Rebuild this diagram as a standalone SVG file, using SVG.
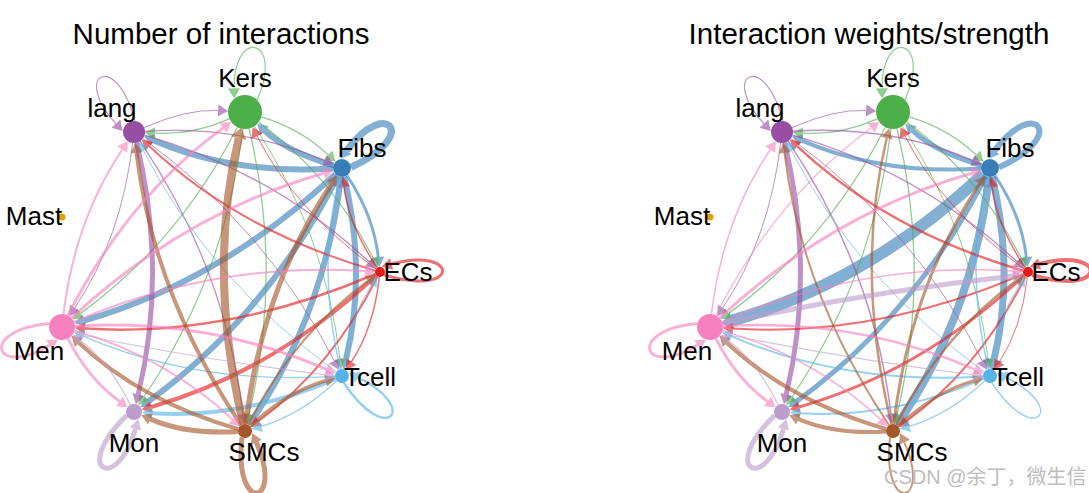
<svg xmlns="http://www.w3.org/2000/svg" width="1089" height="493" viewBox="0 0 1089 493">
<style>
.t{font-family:"Liberation Sans",Arial,sans-serif;fill:#000}
.lab{font-size:26px;text-anchor:middle}
.ttl{font-size:29.5px;text-anchor:middle}
.e{fill:none;stroke-opacity:.62;stroke-linecap:butt}
.cF{stroke:#377EB8;marker-end:url(#aF)}
.cK{stroke:#4DAF4A;marker-end:url(#aK)}
.cI{stroke:#984EA3;marker-end:url(#aI)}
.cE{stroke:#E41A1C;marker-end:url(#aE)}
.cT{stroke:#56B4E9;marker-end:url(#aT)}
.cS{stroke:#A65628;marker-end:url(#aS)}
.cO{stroke:#BC9DCC;marker-end:url(#aO)}
.cN{stroke:#F781BF;marker-end:url(#aN)}
.bF{marker-end:url(#bF)}
.bS{marker-end:url(#bS)}
.wm{font-family:"Liberation Sans","Noto Sans CJK SC",sans-serif;font-size:20px;fill:#bdbdbd}
</style>
<defs>
<marker id="aF" markerUnits="userSpaceOnUse" orient="auto" overflow="visible" markerWidth="1" markerHeight="1"><path d="M0,-6L10,0L0,6z" fill="#377EB8" fill-opacity=".62"/></marker>
<marker id="aK" markerUnits="userSpaceOnUse" orient="auto" overflow="visible" markerWidth="1" markerHeight="1"><path d="M0,-6L10,0L0,6z" fill="#4DAF4A" fill-opacity=".62"/></marker>
<marker id="aI" markerUnits="userSpaceOnUse" orient="auto" overflow="visible" markerWidth="1" markerHeight="1"><path d="M0,-6L10,0L0,6z" fill="#984EA3" fill-opacity=".62"/></marker>
<marker id="aE" markerUnits="userSpaceOnUse" orient="auto" overflow="visible" markerWidth="1" markerHeight="1"><path d="M0,-6L10,0L0,6z" fill="#E41A1C" fill-opacity=".62"/></marker>
<marker id="aT" markerUnits="userSpaceOnUse" orient="auto" overflow="visible" markerWidth="1" markerHeight="1"><path d="M0,-6L10,0L0,6z" fill="#56B4E9" fill-opacity=".62"/></marker>
<marker id="aS" markerUnits="userSpaceOnUse" orient="auto" overflow="visible" markerWidth="1" markerHeight="1"><path d="M0,-6L10,0L0,6z" fill="#A65628" fill-opacity=".62"/></marker>
<marker id="aO" markerUnits="userSpaceOnUse" orient="auto" overflow="visible" markerWidth="1" markerHeight="1"><path d="M0,-6L10,0L0,6z" fill="#BC9DCC" fill-opacity=".62"/></marker>
<marker id="aN" markerUnits="userSpaceOnUse" orient="auto" overflow="visible" markerWidth="1" markerHeight="1"><path d="M0,-6L10,0L0,6z" fill="#F781BF" fill-opacity=".62"/></marker>
<marker id="bF" markerUnits="userSpaceOnUse" orient="auto" overflow="visible" markerWidth="1" markerHeight="1"><path d="M0,-9L11,0L0,9z" fill="#377EB8" fill-opacity=".62"/></marker>
<marker id="bS" markerUnits="userSpaceOnUse" orient="auto" overflow="visible" markerWidth="1" markerHeight="1"><path d="M0,-8L11,0L0,8z" fill="#A65628" fill-opacity=".62"/></marker>
<path id="lE" d="M384.1,274.9 C460.8,298.3 460.8,245.7 391.5,264"/>
<path id="lF" d="M351,167.2 C420.8,136.2 387,95.9 346.6,150.6"/>
<path id="lK" d="M257,100 C284.9,36.9 233.2,27.8 234,88.4"/>
<path id="lI" d="M135,121 C116.3,48.8 70.8,75.1 115.9,123.6"/>
<path id="lN" d="M49.4,323.6 C-23,330 -5,379.3 49.4,345"/>
<path id="lO" d="M126.7,415.4 C70.8,468.9 116.3,495.2 135.5,428.9"/>
<path id="lS" d="M242,437.3 C233.2,515.2 284.9,506.1 256.3,442.3"/>
<path id="lT" d="M343.8,382.8 C387,448.1 420.8,407.8 357.9,377.4"/>
<path id="FE" d="M347,175.5 Q373.5,215.4 378.3,257.1"/>
<path id="EF" d="M377.2,267.8 Q348.5,224.6 344.2,186.9"/>
<path id="FK" d="M333.4,165.4 Q286.8,151.6 264.6,130.6"/>
<path id="KF" d="M261.3,116.8 Q300.2,128.4 328.2,154.9"/>
<path id="FI" d="M333,168.6 Q233.7,175 153.3,140.3"/>
<path id="IF" d="M145,131.3 Q242.3,125 324.6,160.5"/>
<path id="FN" d="M335.4,174.1 Q221.1,281.1 84.1,320.6"/>
<path id="NF" d="M71.5,318.1 Q182.9,213.9 323.7,173.3"/>
<path id="FO" d="M337.9,176 Q267.3,315 148.5,401.4"/>
<path id="OF" d="M137.6,404.9 Q208.7,265 326.6,179.2"/>
<path id="FS" d="M341,176.9 Q325.1,311.1 254.4,416.9"/>
<path id="SF" d="M245.8,424 Q261.9,287.9 331.5,183.8"/>
<path id="FT" d="M344.1,176.7 Q367,272 346,359.5"/>
<path id="TF" d="M340.4,369.2 Q317,272 337.6,186.5"/>
<path id="KE" d="M258.7,122.1 Q331.7,175.8 373.3,258.6"/>
<path id="EK" d="M376,269 Q293.3,208.2 257.1,136.1"/>
<path id="KT" d="M254.4,126.2 Q325.2,232.4 340,359.1"/>
<path id="TK" d="M338.1,370.2 Q261.8,255.6 248.1,138.8"/>
<path id="KS" d="M249,128.5 Q283.3,271.5 249,414.5"/>
<path id="SK" d="M243.4,424.2 Q206.7,271.5 238.7,138.2"/>
<path id="KO" d="M243,128.9 Q225.5,275.3 144,397"/>
<path id="KN" d="M237.3,127.2 Q179.3,241.5 80.6,313.4"/>
<path id="NK" d="M67.9,315.4 Q127.7,197.5 223.2,127.9"/>
<path id="KI" d="M229.4,118.8 Q191.9,135.3 154.9,133.2"/>
<path id="IK" d="M144.1,127.6 Q187.1,108.7 218.1,110.5"/>
<path id="IE" d="M144.6,135.1 Q273.8,172.5 369,261.8"/>
<path id="EI" d="M375.2,270.6 Q240.2,231.5 149.3,146.3"/>
<path id="IT" d="M142.9,138.5 Q267.3,229 334.3,360.9"/>
<path id="TI" d="M336.3,371.9 Q208.7,279 143.5,150.7"/>
<path id="IS" d="M140.1,141.1 Q225.4,268.2 243,414.1"/>
<path id="SI" d="M241.1,425.2 Q153.6,294.8 136.5,152.9"/>
<path id="IO" d="M136.6,142.7 Q167.6,272 138.2,394.5"/>
<path id="IN" d="M132.7,142.9 Q121.4,238.1 74.8,307.9"/>
<path id="NI" d="M63.5,314.1 Q74.6,220.9 122.3,149.5"/>
<path id="ET" d="M379.4,277 Q373.5,328.6 351.4,361.8"/>
<path id="TE" d="M342.8,369 Q348.5,319.4 371.7,284.5"/>
<path id="ES" d="M377.7,276.5 Q331.6,367.7 258.7,421"/>
<path id="SE" d="M248.2,424.8 Q293.4,335.3 367.9,280.9"/>
<path id="EO" d="M376.4,275.4 Q273.8,371.5 151.3,407"/>
<path id="EN" d="M375.4,274 Q227.6,337.7 84.9,328.5"/>
<path id="NE" d="M73.9,321.9 Q214.4,261.3 365,271"/>
<path id="TS" d="M336.9,380.8 Q300.1,415.1 261.3,426.3"/>
<path id="ST" d="M250.1,426.2 Q286.9,391.9 325.7,380.7"/>
<path id="TO" d="M335.6,378.8 Q242.3,419 152,413.2"/>
<path id="TN" d="M335,376.4 Q196.1,385.1 83.1,336.1"/>
<path id="NT" d="M75,326.2 Q207.9,317.9 326.4,369.3"/>
<path id="SO" d="M238,431.5 Q187.2,434.8 150.5,419.1"/>
<path id="SN" d="M238.3,429.1 Q141,401 78.8,342.7"/>
<path id="NS" d="M74.5,330.6 Q166,357 232.6,419.4"/>
<path id="NO" d="M67.9,338.6 Q87.8,378.1 119.5,401.4"/>
<path id="ON" d="M130.4,404.9 Q108.2,360.9 80.5,340.6"/>
<path id="xNT" d="M76,334 Q205,360 326,375"/>
<path id="xNE" d="M76,323 Q220,292 365,276"/>
</defs>
<rect width="1089" height="493" fill="#fff"/>
<text class="t ttl" x="221" y="44">Number of interactions</text>
<text class="t ttl" x="869" y="44">Interaction weights/strength</text>

<g id="plot-count">
<g id="L-connectors">
<use href="#lF" class="e cF" stroke-width="7"/>
<use href="#FI" class="e cF" stroke-width="6"/>
<use href="#FK" class="e cF" stroke-width="6"/>
<use href="#FE" class="e cF" stroke-width="3"/>
<use href="#FT" class="e cF" stroke-width="6"/>
<use href="#FS" class="e cF" stroke-width="6"/>
<use href="#FO" class="e cF" stroke-width="6"/>
<use href="#FN" class="e cF" stroke-width="6"/>
<use href="#lK" class="e cK" stroke-width="1.2"/>
<use href="#KI" class="e cK" stroke-width="1.3"/>
<use href="#KF" class="e cK" stroke-width="1.3"/>
<use href="#KE" class="e cK" stroke-width="1.2"/>
<use href="#KT" class="e cK" stroke-width="1"/>
<use href="#KS" class="e cK" stroke-width="1.3"/>
<use href="#KO" class="e cK" stroke-width="1.2"/>
<use href="#KN" class="e cK" stroke-width="1.3"/>
<use href="#lI" class="e cI" stroke-width="1.2"/>
<use href="#IO" class="e cI" stroke-width="5"/>
<use href="#IF" class="e cI" stroke-width="1.2"/>
<use href="#IK" class="e cI" stroke-width="1"/>
<use href="#IE" class="e cI" stroke-width="1.5"/>
<use href="#IT" class="e cI" stroke-width="1"/>
<use href="#IS" class="e cI" stroke-width="1.3"/>
<use href="#IN" class="e cI" stroke-width="1"/>
<use href="#lE" class="e cE" stroke-width="3"/>
<use href="#EF" class="e cE" stroke-width="1.5"/>
<use href="#EK" class="e cE" stroke-width="1"/>
<use href="#EI" class="e cE" stroke-width="2"/>
<use href="#ET" class="e cE" stroke-width="1.5"/>
<use href="#ES" class="e cE" stroke-width="2"/>
<use href="#EO" class="e cE" stroke-width="4"/>
<use href="#EN" class="e cE" stroke-width="2.5"/>
<use href="#lT" class="e cT" stroke-width="2.5"/>
<use href="#TF" class="e cT" stroke-width="1.5"/>
<use href="#TI" class="e cT" stroke-width="1"/>
<use href="#TE" class="e cT" stroke-width="1"/>
<use href="#TO" class="e cT" stroke-width="4"/>
<use href="#TN" class="e cT" stroke-width="1.2"/>
<use href="#TS" class="e cT" stroke-width="1.2"/>
<use href="#lS" class="e cS" stroke-width="5"/>
<use href="#SK" class="e cS bS" stroke-width="8"/>
<use href="#SI" class="e cS" stroke-width="4"/>
<use href="#SF" class="e cS" stroke-width="5"/>
<use href="#SE" class="e cS" stroke-width="2"/>
<use href="#ST" class="e cS" stroke-width="3.5"/>
<use href="#SO" class="e cS" stroke-width="5"/>
<use href="#SN" class="e cS" stroke-width="4"/>
<use href="#lO" class="e cO" stroke-width="5"/>
<use href="#ON" class="e cO" stroke-width="1.2"/>
<use href="#xNT" class="e cO" stroke-width="1.2"/>
<use href="#lN" class="e cN" stroke-width="3"/>
<use href="#NI" class="e cN" stroke-width="2"/>
<use href="#NK" class="e cN" stroke-width="3"/>
<use href="#NF" class="e cN" stroke-width="3"/>
<use href="#NE" class="e cN" stroke-width="2"/>
<use href="#NT" class="e cN" stroke-width="3"/>
<use href="#NS" class="e cN" stroke-width="2"/>
<use href="#NO" class="e cN" stroke-width="3"/>
</g>
<g id="L-ECs"><circle cx="380" cy="272" r="5" fill="#E41A1C"/><text class="t lab" x="408" y="281">ECs</text></g>
<g id="L-Fibs"><circle cx="342" cy="168" r="9" fill="#377EB8"/><text class="t lab" x="362" y="157">Fibs</text></g>
<g id="L-Kers"><circle cx="245" cy="112" r="17" fill="#4DAF4A"/><text class="t lab" x="245" y="87">Kers</text></g>
<g id="L-lang"><circle cx="134" cy="132" r="11" fill="#984EA3"/><text class="t lab" x="112" y="117">lang</text></g>
<g id="L-Mast"><circle cx="62" cy="217" r="3.5" fill="#E69F00"/><text class="t lab" x="34" y="225">Mast</text></g>
<g id="L-Men"><circle cx="62" cy="327" r="13" fill="#F781BF"/><text class="t lab" x="39" y="360">Men</text></g>
<g id="L-Mon"><circle cx="134" cy="412" r="8" fill="#BC9DCC"/><text class="t lab" x="134" y="452">Mon</text></g>
<g id="L-SMCs"><circle cx="245" cy="431" r="7" fill="#A65628"/><text class="t lab" x="264" y="461">SMCs</text></g>
<g id="L-Tcell"><circle cx="342" cy="376" r="7" fill="#56B4E9"/><text class="t lab" x="370" y="386">Tcell</text></g>
</g>

<g id="plot-weight" transform="translate(648,0)">
<g id="R-connectors">
<use href="#lF" class="e cF" stroke-width="6"/>
<use href="#FI" class="e cF" stroke-width="4"/>
<use href="#FK" class="e cF" stroke-width="5"/>
<use href="#FE" class="e cF" stroke-width="3"/>
<use href="#FT" class="e cF bF" stroke-width="7"/>
<use href="#FS" class="e cF bF" stroke-width="8"/>
<use href="#FO" class="e cF" stroke-width="5"/>
<use href="#FN" class="e cF bF" stroke-width="12"/>
<use href="#lK" class="e cK" stroke-width="1.2"/>
<use href="#KI" class="e cK" stroke-width="1.3"/>
<use href="#KF" class="e cK" stroke-width="1.3"/>
<use href="#KE" class="e cK" stroke-width="1.2"/>
<use href="#KT" class="e cK" stroke-width="1"/>
<use href="#KS" class="e cK" stroke-width="1.3"/>
<use href="#KO" class="e cK" stroke-width="1.2"/>
<use href="#KN" class="e cK" stroke-width="1.3"/>
<use href="#lI" class="e cI" stroke-width="1.2"/>
<use href="#IO" class="e cI" stroke-width="5"/>
<use href="#IF" class="e cI" stroke-width="1.5"/>
<use href="#IK" class="e cI" stroke-width="1"/>
<use href="#IE" class="e cI" stroke-width="1.5"/>
<use href="#IT" class="e cI" stroke-width="1"/>
<use href="#IS" class="e cI" stroke-width="1.5"/>
<use href="#IN" class="e cI" stroke-width="1"/>
<use href="#lE" class="e cE" stroke-width="4"/>
<use href="#EF" class="e cE" stroke-width="1.5"/>
<use href="#EK" class="e cE" stroke-width="1"/>
<use href="#EI" class="e cE" stroke-width="2.5"/>
<use href="#ET" class="e cE" stroke-width="1"/>
<use href="#ES" class="e cE" stroke-width="2"/>
<use href="#EO" class="e cE" stroke-width="3"/>
<use href="#EN" class="e cE" stroke-width="2"/>
<use href="#lT" class="e cT" stroke-width="1.5"/>
<use href="#TF" class="e cT" stroke-width="1.5"/>
<use href="#TI" class="e cT" stroke-width="1"/>
<use href="#TE" class="e cT" stroke-width="1"/>
<use href="#TO" class="e cT" stroke-width="2"/>
<use href="#TN" class="e cT" stroke-width="2"/>
<use href="#TS" class="e cT" stroke-width="1.2"/>
<use href="#lS" class="e cS" stroke-width="2"/>
<use href="#SK" class="e cS" stroke-width="2.5"/>
<use href="#SI" class="e cS" stroke-width="2"/>
<use href="#SF" class="e cS" stroke-width="3"/>
<use href="#SE" class="e cS" stroke-width="2.5"/>
<use href="#ST" class="e cS" stroke-width="3"/>
<use href="#SO" class="e cS" stroke-width="4"/>
<use href="#SN" class="e cS" stroke-width="4"/>
<use href="#lO" class="e cO" stroke-width="5"/>
<use href="#ON" class="e cO" stroke-width="1.2"/>
<use href="#xNT" class="e cO" stroke-width="1.2"/>
<use href="#xNE" class="e cO" stroke-width="5"/>
<use href="#lN" class="e cN" stroke-width="3"/>
<use href="#NI" class="e cN" stroke-width="1.5"/>
<use href="#NK" class="e cN" stroke-width="1.2"/>
<use href="#NF" class="e cN" stroke-width="3"/>
<use href="#NE" class="e cN" stroke-width="1.5"/>
<use href="#NT" class="e cN" stroke-width="2.5"/>
<use href="#NS" class="e cN" stroke-width="1.5"/>
<use href="#NO" class="e cN" stroke-width="3"/>
</g>
<g id="R-ECs"><circle cx="380" cy="272" r="5" fill="#E41A1C"/><text class="t lab" x="408" y="281">ECs</text></g>
<g id="R-Fibs"><circle cx="342" cy="168" r="9" fill="#377EB8"/><text class="t lab" x="362" y="157">Fibs</text></g>
<g id="R-Kers"><circle cx="245" cy="112" r="17" fill="#4DAF4A"/><text class="t lab" x="245" y="87">Kers</text></g>
<g id="R-lang"><circle cx="134" cy="132" r="11" fill="#984EA3"/><text class="t lab" x="112" y="117">lang</text></g>
<g id="R-Mast"><circle cx="62" cy="217" r="3.5" fill="#E69F00"/><text class="t lab" x="34" y="225">Mast</text></g>
<g id="R-Men"><circle cx="62" cy="327" r="13" fill="#F781BF"/><text class="t lab" x="39" y="360">Men</text></g>
<g id="R-Mon"><circle cx="134" cy="412" r="8" fill="#BC9DCC"/><text class="t lab" x="134" y="452">Mon</text></g>
<g id="R-SMCs"><circle cx="245" cy="431" r="7" fill="#A65628"/><text class="t lab" x="264" y="461">SMCs</text></g>
<g id="R-Tcell"><circle cx="342" cy="376" r="7" fill="#56B4E9"/><text class="t lab" x="370" y="386">Tcell</text></g>
</g>
<text class="wm" x="884" y="484">CSDN @余丁，微生信</text>
</svg>
